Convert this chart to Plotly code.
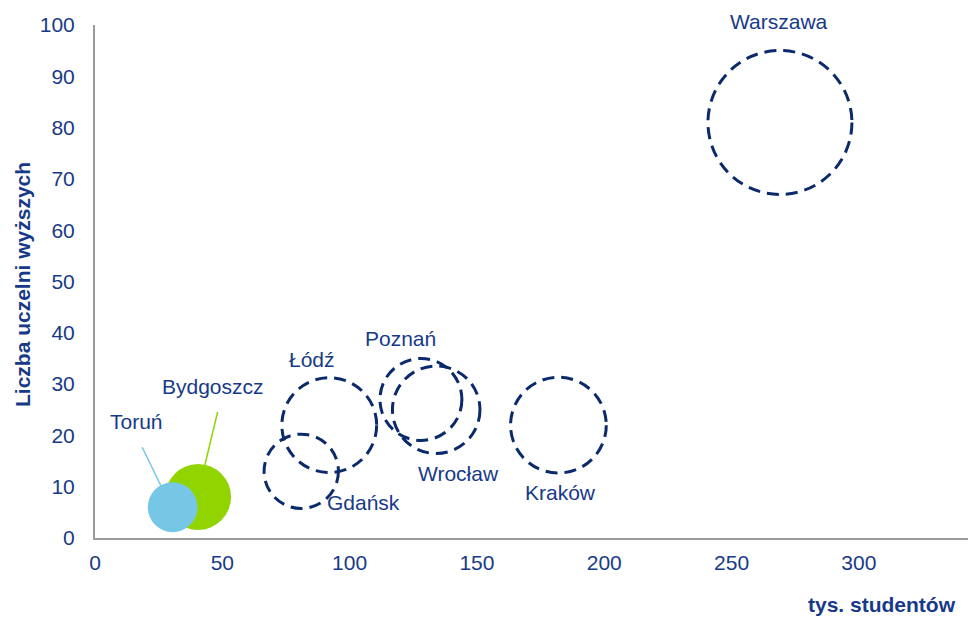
import plotly.graph_objects as go

# Data
cities = ["Warszawa", "Kraków", "Łódź", "Wrocław", "Poznań", "Gdańsk", "Bydgoszcz", "Toruń"]
students_k = [269, 182, 92, 134, 128, 81, 40.5, 30.5]      # tys. studentów
universities = [81, 22, 22, 25, 27, 13, 8, 6]               # liczba uczelni wyższych
population_k = [1710, 756, 742, 632, 554, 456, 358, 205]   # bubble size
x_ticks = [0, 50, 100, 150, 200, 250, 300]
y_ticks = [0, 10, 20, 30, 40, 50, 60, 70, 80, 90, 100]

# Styles
NAVY = "#0B2A6B"
TEXT = "#173A88"
FILLED = {"Bydgoszcz": "#92D400", "Toruń": "#76C7E5"}
SIZEREF = 0.0825  # diameter px = sqrt(pop / SIZEREF)
MARKER_SIZEREF = 2 * SIZEREF  # plotly area mode: diameter = sqrt(2 v / sizeref)
FONT = "Liberation Sans, Arial, sans-serif"
FS = 21

# label offsets in pixels relative to bubble centre (dx right, dy up)
label_offsets = {
    "Warszawa": (-1, 101), "Kraków": (2, -67), "Łódź": (-17, 66),
    "Wrocław": (22, -64), "Poznań": (-20, 61), "Gdańsk": (62, -31),
    "Bydgoszcz": (15, 110), "Toruń": (-36, 86),
}
# leader lines (pixel offsets relative to bubble centre: x0, y0, x1, y1; y up)
leaders = {"Bydgoszcz": (19.5, 85, 6.5, 31), "Toruń": (-30.5, 60, -11.5, 21)}

fig = go.Figure()
shapes = []
annotations = []

for c, x, y, p in zip(cities, students_k, universities, population_k):
    r = (p / SIZEREF) ** 0.5 / 2
    if c not in FILLED:
        shapes.append(dict(type="circle", xref="x", yref="y",
                           xsizemode="pixel", ysizemode="pixel",
                           xanchor=x, yanchor=y, x0=-r, x1=r, y0=-r, y1=r,
                           line=dict(color=NAVY, width=3, dash="12px,7px"),
                           fillcolor="rgba(0,0,0,0)", layer="above"))
        fig.add_trace(go.Scatter(x=[x], y=[y], mode="markers", name=c,
                                 marker=dict(size=[p], sizemode="area", sizeref=MARKER_SIZEREF,
                                             color="rgba(0,0,0,0)", line=dict(width=0)),
                                 hovertemplate=c + ": %{x}, %{y}<extra></extra>",
                                 showlegend=False, cliponaxis=False))

for c in ["Bydgoszcz", "Toruń"]:
    i = cities.index(c)
    fig.add_trace(go.Scatter(x=[students_k[i]], y=[universities[i]], mode="markers", name=c,
                             marker=dict(size=[population_k[i]], sizemode="area",
                                         sizeref=MARKER_SIZEREF,
                                         color=FILLED[c], opacity=1, line=dict(width=0)),
                             hovertemplate=c + ": %{x}, %{y}<extra></extra>",
                             showlegend=False, cliponaxis=False))
    x0, y0, x1, y1 = leaders[c]
    shapes.append(dict(type="line", xref="x", yref="y",
                       xsizemode="pixel", ysizemode="pixel",
                       xanchor=students_k[i], yanchor=universities[i],
                       x0=x0, y0=y0, x1=x1, y1=y1,
                       line=dict(color=FILLED[c], width=1.5), layer="below"))

for c, x, y in zip(cities, students_k, universities):
    dx, dy = label_offsets[c]
    annotations.append(dict(x=x, y=y, xref="x", yref="y", text=c, showarrow=False,
                            xshift=dx, yshift=dy, xanchor="center", yanchor="middle",
                            font=dict(family=FONT, size=FS, color=TEXT)))

# page has an 8px body margin: figure is offset by OFF in the window
OFF = 8
W, H = 976 - OFF, 618 - OFF
L, R, T, B = 95 - OFF, 0, 25 - OFF, 80
pw, ph = W - L - R, H - T - B

def paper_xy(px, py):
    px, py = px - OFF, py - OFF
    return (px - L) / pw, (H - B - py) / ph

tx, ty = paper_xy(882, 604)
annotations.append(dict(x=tx, y=ty, xref="paper", yref="paper", text="<b>tys. studentów</b>",
                        showarrow=False, xanchor="center", yanchor="middle",
                        font=dict(family=FONT, size=FS, color=TEXT)))
tx, ty = paper_xy(22, 285)
annotations.append(dict(x=tx, y=ty, xref="paper", yref="paper", text="<b>Liczba uczelni wyższych</b>",
                        textangle=-90, showarrow=False, xanchor="center", yanchor="middle",
                        font=dict(family=FONT, size=FS, color=TEXT)))

fig.update_layout(
    width=W, height=H,
    margin=dict(l=L, r=R, t=T, b=B),
    paper_bgcolor="white", plot_bgcolor="white",
    shapes=shapes, annotations=annotations,
    font=dict(family=FONT, size=FS, color=TEXT),
    xaxis=dict(range=[0, 346], tickvals=x_ticks, showgrid=False, zeroline=False,
               showline=True, linecolor="#9A9A9A", linewidth=2, ticks="",
               ticklabelstandoff=5, tickfont=dict(family=FONT, size=FS, color=TEXT)),
    yaxis=dict(range=[0, 100], tickvals=y_ticks, showgrid=False, zeroline=False,
               showline=True, linecolor="#9A9A9A", linewidth=2, ticks="",
               ticklabelstandoff=14, tickfont=dict(family=FONT, size=FS, color=TEXT)),
)

fig.write_html("out.html")
